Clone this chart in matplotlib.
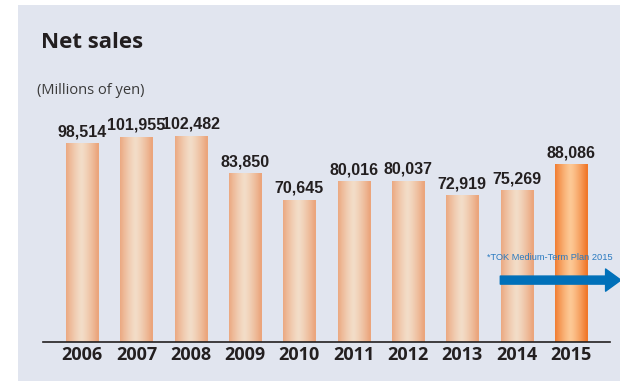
import numpy as np
import matplotlib.pyplot as plt
from matplotlib.patches import Rectangle
from matplotlib.colors import LinearSegmentedColormap

years = ['2006', '2007', '2008', '2009', '2010', '2011', '2012', '2013', '2014', '2015']
net_sales = [98514, 101955, 102482, 83850, 70645, 80016, 80037, 72919, 75269, 88086]
plan_year = '2015'

bg = '#e1e5ef'
ink = '#231f20'

W, H = 620, 381
fig = plt.figure(figsize=(W / 100, H / 100), dpi=100)
fig.patch.set_facecolor('white')
fig.add_artist(Rectangle((18 / W, 0), 1 - 18 / W, (H - 5) / H,
                         transform=fig.transFigure, facecolor=bg,
                         edgecolor='none', zorder=-10))

ax = fig.add_axes([43 / W, 39 / H, 567 / W, 322 / H])
ax.set_zorder(1)
ax.set_facecolor('none')

# horizontal shading across each bar: darker edges, light centre
u = np.linspace(0, 1, 64)
shade = np.clip(np.abs(u - 0.47) / 0.5, 0, 1) ** 1.3
normal = LinearSegmentedColormap.from_list('n', ['#f3ddc8', '#eba57c'])
plan = LinearSegmentedColormap.from_list('p', ['#fdc995', '#f0772a'])

bw = 0.59
for i, (yr, v) in enumerate(zip(years, net_sales)):
    cmap = plan if yr == plan_year else normal
    ax.imshow(shade[np.newaxis, :], cmap=cmap, vmin=0, vmax=1, aspect='auto',
              extent=[i - bw / 2, i + bw / 2, 0, v], interpolation='bilinear', zorder=2)
    ax.annotate(f'{v:,}', (i, v), xytext=(0, 3), textcoords='offset points',
                ha='center', va='bottom', fontsize=11.5, fontweight='bold',
                family='Liberation Sans', color=ink)

ax.set_xlim(-0.72, len(years) - 1 + 0.72)
ax.set_ylim(0, 160200)
ax.set_xticks(range(len(years)))
ax.set_xticklabels(years, fontsize=13, fontweight='bold', family='Open Sans', color=ink)
ax.tick_params(axis='x', length=0, pad=3)
ax.set_yticks([])
for s in ['top', 'right', 'left']:
    ax.spines[s].set_visible(False)
ax.spines['bottom'].set_color(ink)
ax.spines['bottom'].set_linewidth(1.2)

# plan arrow
ax.annotate('', xy=(9.92, 30800), xytext=(7.70, 30800),
            arrowprops=dict(arrowstyle='simple,head_length=1.1,head_width=1.6,tail_width=0.58',
                            mutation_scale=10, color='#0070b9', shrinkA=0, shrinkB=0),
            annotation_clip=False, zorder=4)
ax.text(7.45, 41800, '*TOK Medium-Term Plan 2015', ha='left', va='center',
        fontsize=6.7, family='Liberation Sans',
        color='#2a7ac0', clip_on=False, zorder=4)

fig.text(41 / W, 1 - 42 / H, 'Net sales', fontsize=16, fontweight='bold',
         family='Open Sans', color=ink, va='center', ha='left')
fig.text(37 / W, 1 - 90 / H, '(Millions of yen)', fontsize=10.5,
         family='Open Sans', color='#3a3a3a', va='center', ha='left')

fig.savefig('out.png', dpi=100)
